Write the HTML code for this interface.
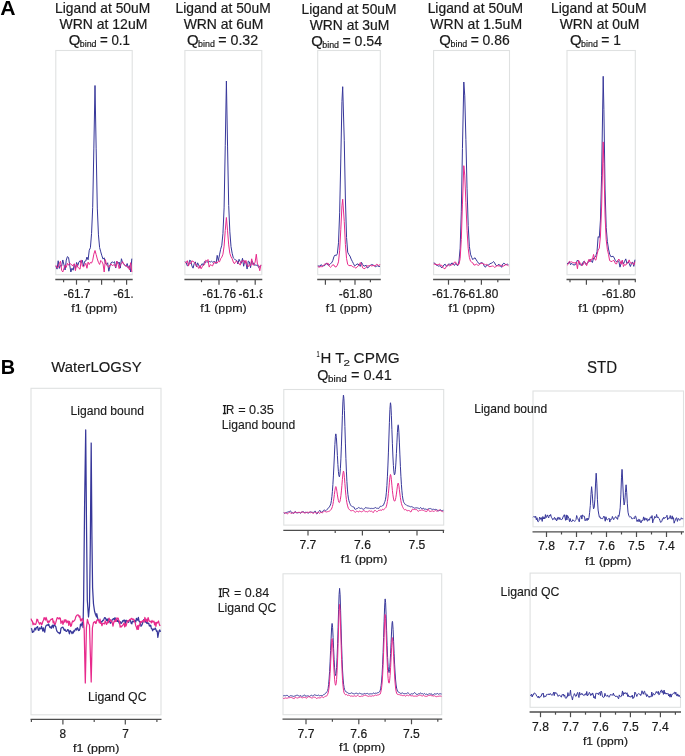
<!DOCTYPE html>
<html><head><meta charset="utf-8"><style>
html,body{margin:0;padding:0;background:#fff;width:685px;height:756px;overflow:hidden}
svg{display:block;font-family:"Liberation Sans", sans-serif;will-change:transform}
</style></head><body>
<svg width="685" height="756" viewBox="0 0 685 756">
<rect width="685" height="756" fill="#fff"/>
<text x="0.37" y="14.7" font-size="20.5" font-weight="bold" fill="#000" textLength="15.31" lengthAdjust="spacingAndGlyphs">A</text>
<text x="0.86" y="373.9" font-size="20.5" font-weight="bold" fill="#000" textLength="14.33" lengthAdjust="spacingAndGlyphs">B</text>
<rect x="55.8" y="50.5" width="76.4" height="224.2" fill="none" stroke="#dfe1e1" stroke-width="1.1"/>
<line x1="55.3" y1="279.5" x2="132.7" y2="279.5" stroke="#4d4d4d" stroke-width="1.3"/>
<line x1="63.6" y1="279.5" x2="63.6" y2="282.2" stroke="#4d4d4d" stroke-width="1.2"/>
<line x1="76.5" y1="279.5" x2="76.5" y2="284.7" stroke="#4d4d4d" stroke-width="1.2"/>
<line x1="88.9" y1="279.5" x2="88.9" y2="282.2" stroke="#4d4d4d" stroke-width="1.2"/>
<line x1="101.6" y1="279.5" x2="101.6" y2="284.7" stroke="#4d4d4d" stroke-width="1.2"/>
<line x1="114.2" y1="279.5" x2="114.2" y2="282.2" stroke="#4d4d4d" stroke-width="1.2"/>
<line x1="126.6" y1="279.5" x2="126.6" y2="284.7" stroke="#4d4d4d" stroke-width="1.2"/>
<clipPath id="ax1"><rect x="25.299999999999997" y="279.5" width="107.39999999999999" height="30"/></clipPath>
<g clip-path="url(#ax1)">
<text x="63.47" y="297.9" font-size="12.0" fill="#1a1a1a" stroke="#1a1a1a" stroke-width="0.2" textLength="26.94" lengthAdjust="spacingAndGlyphs">-61.7</text>
<text x="113.33" y="297.9" font-size="12.0" fill="#1a1a1a" stroke="#1a1a1a" stroke-width="0.2" textLength="26.94" lengthAdjust="spacingAndGlyphs">-61.8</text>
</g>
<text x="71.21" y="312.0" font-size="11.8" fill="#1a1a1a" stroke="#1a1a1a" stroke-width="0.2" textLength="46.14" lengthAdjust="spacingAndGlyphs">f1 (ppm)</text>
<path d="M55.90,266.18 L57.05,269.14 L58.20,260.74 L59.35,268.42 L60.50,265.30 L61.65,266.11 L62.80,259.98 L63.95,264.85 L65.10,270.01 L66.25,260.11 L67.40,256.62 L68.55,257.47 L69.70,265.12 L70.85,272.00 L72.00,268.23 L73.15,270.22 L74.30,264.13 L75.45,268.91 L76.60,262.46 L77.75,265.59 L78.90,262.08 L80.05,260.77 L81.20,262.95 L82.35,260.30 L83.50,266.13 L84.65,261.38 L85.80,261.01 L86.95,257.04 L88.10,259.79 L89.25,250.21 L90.40,247.73 L91.55,233.59 L92.70,207.40 L93.85,148.08 L95.00,85.50 L96.15,148.18 L97.30,208.10 L98.45,234.87 L99.60,247.50 L100.75,251.87 L101.90,255.81 L103.05,259.10 L104.20,257.81 L105.35,263.18 L106.50,264.47 L107.65,262.77 L108.80,271.24 L109.95,266.20 L111.10,262.66 L112.25,261.94 L113.40,262.60 L114.55,261.73 L115.70,268.03 L116.85,261.21 L118.00,263.64 L119.15,262.01 L120.30,268.10 L121.45,258.72 L122.60,262.82 L123.75,263.79 L124.90,265.52 L126.05,266.11 L127.20,263.53 L128.35,268.21 L129.50,265.64 L130.65,272.00 L131.80,258.64" fill="none" stroke="#37379a" stroke-width="1.0" stroke-linejoin="round"/>
<path d="M55.90,265.22 L57.05,267.85 L58.20,267.25 L59.35,263.57 L60.50,261.21 L61.65,270.45 L62.80,272.00 L63.95,268.26 L65.10,265.19 L66.25,267.38 L67.40,263.34 L68.55,265.26 L69.70,263.27 L70.85,264.15 L72.00,265.20 L73.15,265.71 L74.30,263.71 L75.45,270.65 L76.60,264.14 L77.75,267.03 L78.90,268.39 L80.05,269.16 L81.20,259.93 L82.35,266.14 L83.50,266.94 L84.65,265.55 L85.80,263.28 L86.95,268.28 L88.10,262.10 L89.25,264.51 L90.40,262.44 L91.55,263.06 L92.70,260.30 L93.85,254.12 L95.00,250.50 L96.15,254.57 L97.30,258.98 L98.45,262.41 L99.60,264.46 L100.75,260.46 L101.90,261.62 L103.05,264.00 L104.20,272.00 L105.35,259.56 L106.50,264.77 L107.65,266.27 L108.80,267.32 L109.95,264.77 L111.10,264.06 L112.25,265.61 L113.40,264.97 L114.55,264.80 L115.70,267.31 L116.85,261.39 L118.00,263.85 L119.15,268.63 L120.30,264.87 L121.45,263.98 L122.60,261.58 L123.75,263.78 L124.90,265.54 L126.05,265.65 L127.20,267.27 L128.35,266.52 L129.50,270.00 L130.65,262.69 L131.80,272.00" fill="none" stroke="#e82a8c" stroke-width="1.0" stroke-linejoin="round"/>
<text x="55.06" y="12.8" font-size="14.2" fill="#1a1a1a" stroke="#1a1a1a" stroke-width="0.2" textLength="95.17" lengthAdjust="spacingAndGlyphs">Ligand at 50uM</text>
<text x="59.43" y="28.5" font-size="14.2" fill="#1a1a1a" stroke="#1a1a1a" stroke-width="0.2" textLength="87.92" lengthAdjust="spacingAndGlyphs">WRN at 12uM</text>
<text x="68.69" y="44.6" font-size="14.0" fill="#1a1a1a" stroke="#1a1a1a" stroke-width="0.2" textLength="11.63" lengthAdjust="spacingAndGlyphs">Q</text>
<text x="79.82" y="46.5" font-size="9.0" fill="#1a1a1a" stroke="#1a1a1a" stroke-width="0.2" textLength="16.73" lengthAdjust="spacingAndGlyphs">bind</text>
<text x="99.97" y="44.6" font-size="14.0" fill="#1a1a1a" stroke="#1a1a1a" stroke-width="0.2" textLength="29.99" lengthAdjust="spacingAndGlyphs">= 0.1</text>
<rect x="184.9" y="50.5" width="76.9" height="224.2" fill="none" stroke="#dfe1e1" stroke-width="1.1"/>
<line x1="184.4" y1="279.5" x2="262.3" y2="279.5" stroke="#4d4d4d" stroke-width="1.3"/>
<line x1="201.5" y1="279.5" x2="201.5" y2="282.2" stroke="#4d4d4d" stroke-width="1.2"/>
<line x1="219.0" y1="279.5" x2="219.0" y2="284.7" stroke="#4d4d4d" stroke-width="1.2"/>
<line x1="237.0" y1="279.5" x2="237.0" y2="282.2" stroke="#4d4d4d" stroke-width="1.2"/>
<line x1="255.2" y1="279.5" x2="255.2" y2="284.7" stroke="#4d4d4d" stroke-width="1.2"/>
<clipPath id="ax2"><rect x="154.4" y="279.5" width="107.9" height="30"/></clipPath>
<g clip-path="url(#ax2)">
<text x="202.53" y="297.9" font-size="12.0" fill="#1a1a1a" stroke="#1a1a1a" stroke-width="0.2" textLength="33.52" lengthAdjust="spacingAndGlyphs">-61.76</text>
<text x="238.60" y="297.9" font-size="12.0" fill="#1a1a1a" stroke="#1a1a1a" stroke-width="0.2" textLength="33.52" lengthAdjust="spacingAndGlyphs">-61.80</text>
</g>
<text x="200.31" y="312.0" font-size="11.8" fill="#1a1a1a" stroke="#1a1a1a" stroke-width="0.2" textLength="46.44" lengthAdjust="spacingAndGlyphs">f1 (ppm)</text>
<path d="M185.00,261.48 L186.15,262.61 L187.30,265.83 L188.45,265.45 L189.60,260.25 L190.75,260.75 L191.90,265.87 L193.05,268.17 L194.20,263.69 L195.35,261.85 L196.50,266.74 L197.65,262.81 L198.80,265.62 L199.95,267.84 L201.10,265.25 L202.25,263.65 L203.40,265.38 L204.55,261.53 L205.70,262.69 L206.85,261.50 L208.00,262.36 L209.15,261.42 L210.30,262.02 L211.45,261.24 L212.60,262.15 L213.75,261.66 L214.90,261.69 L216.05,263.71 L217.20,255.36 L218.35,260.70 L219.50,254.87 L220.65,249.27 L221.80,245.21 L222.95,233.56 L224.10,207.89 L225.25,145.75 L226.40,81.00 L227.55,146.07 L228.70,205.56 L229.85,231.80 L231.00,246.58 L232.15,253.21 L233.30,257.82 L234.45,258.91 L235.60,260.11 L236.75,260.49 L237.90,264.03 L239.05,259.30 L240.20,261.54 L241.35,263.27 L242.50,258.30 L243.65,266.26 L244.80,260.77 L245.95,262.86 L247.10,269.05 L248.25,261.02 L249.40,261.92 L250.55,267.73 L251.70,260.55 L252.85,262.38 L254.00,265.05 L255.15,264.93 L256.30,265.35 L257.45,264.77 L258.60,267.50 L259.75,266.62 L260.90,265.48" fill="none" stroke="#37379a" stroke-width="1.0" stroke-linejoin="round"/>
<path d="M185.00,262.75 L186.15,262.54 L187.30,260.69 L188.45,266.09 L189.60,262.59 L190.75,263.78 L191.90,260.89 L193.05,261.36 L194.20,262.21 L195.35,263.81 L196.50,266.21 L197.65,266.44 L198.80,268.55 L199.95,265.35 L201.10,268.80 L202.25,266.79 L203.40,264.87 L204.55,264.64 L205.70,260.32 L206.85,261.06 L208.00,259.47 L209.15,267.11 L210.30,264.67 L211.45,265.33 L212.60,265.92 L213.75,262.71 L214.90,262.94 L216.05,261.85 L217.20,263.13 L218.35,261.17 L219.50,261.85 L220.65,258.71 L221.80,257.18 L222.95,254.20 L224.10,246.15 L225.25,230.46 L226.40,217.50 L227.55,230.80 L228.70,244.90 L229.85,253.37 L231.00,256.75 L232.15,258.73 L233.30,262.03 L234.45,263.75 L235.60,261.68 L236.75,261.08 L237.90,262.52 L239.05,263.31 L240.20,265.15 L241.35,260.95 L242.50,261.58 L243.65,259.95 L244.80,263.36 L245.95,260.40 L247.10,265.29 L248.25,266.79 L249.40,264.58 L250.55,265.92 L251.70,258.80 L252.85,264.96 L254.00,264.87 L255.15,262.05 L256.30,254.22 L257.45,264.27 L258.60,265.05 L259.75,270.71 L260.90,264.74" fill="none" stroke="#e82a8c" stroke-width="1.0" stroke-linejoin="round"/>
<text x="175.46" y="12.8" font-size="14.2" fill="#1a1a1a" stroke="#1a1a1a" stroke-width="0.2" textLength="95.27" lengthAdjust="spacingAndGlyphs">Ligand at 50uM</text>
<text x="183.63" y="28.5" font-size="14.2" fill="#1a1a1a" stroke="#1a1a1a" stroke-width="0.2" textLength="79.83" lengthAdjust="spacingAndGlyphs">WRN at 6uM</text>
<text x="186.99" y="44.6" font-size="14.0" fill="#1a1a1a" stroke="#1a1a1a" stroke-width="0.2" textLength="11.63" lengthAdjust="spacingAndGlyphs">Q</text>
<text x="198.12" y="46.5" font-size="9.0" fill="#1a1a1a" stroke="#1a1a1a" stroke-width="0.2" textLength="16.73" lengthAdjust="spacingAndGlyphs">bind</text>
<text x="218.22" y="44.6" font-size="14.0" fill="#1a1a1a" stroke="#1a1a1a" stroke-width="0.2" textLength="40.00" lengthAdjust="spacingAndGlyphs">= 0.32</text>
<rect x="317.7" y="50.5" width="62.6" height="224.2" fill="none" stroke="#dfe1e1" stroke-width="1.1"/>
<line x1="317.2" y1="279.5" x2="380.8" y2="279.5" stroke="#4d4d4d" stroke-width="1.3"/>
<line x1="325.4" y1="279.5" x2="325.4" y2="284.7" stroke="#4d4d4d" stroke-width="1.2"/>
<line x1="340.2" y1="279.5" x2="340.2" y2="282.2" stroke="#4d4d4d" stroke-width="1.2"/>
<line x1="355.0" y1="279.5" x2="355.0" y2="284.7" stroke="#4d4d4d" stroke-width="1.2"/>
<line x1="370.4" y1="279.5" x2="370.4" y2="282.2" stroke="#4d4d4d" stroke-width="1.2"/>
<clipPath id="ax3"><rect x="287.2" y="279.5" width="93.60000000000002" height="30"/></clipPath>
<g clip-path="url(#ax3)">
<text x="338.80" y="297.9" font-size="12.0" fill="#1a1a1a" stroke="#1a1a1a" stroke-width="0.2" textLength="33.52" lengthAdjust="spacingAndGlyphs">-61.80</text>
</g>
<text x="325.81" y="312.0" font-size="11.8" fill="#1a1a1a" stroke="#1a1a1a" stroke-width="0.2" textLength="46.24" lengthAdjust="spacingAndGlyphs">f1 (ppm)</text>
<path d="M317.80,265.98 L318.95,266.02 L320.10,266.18 L321.25,264.62 L322.40,266.11 L323.55,265.76 L324.70,265.57 L325.85,263.46 L327.00,263.26 L328.15,265.32 L329.30,264.81 L330.45,263.61 L331.60,262.88 L332.75,260.69 L333.90,256.85 L335.05,254.97 L336.20,255.63 L337.35,253.71 L338.50,242.73 L339.65,212.83 L340.80,158.98 L341.95,101.62 L342.70,86.70 L344.25,140.27 L345.40,199.00 L346.55,237.52 L347.70,252.23 L348.85,254.55 L350.00,256.11 L351.15,259.14 L352.30,261.39 L353.45,263.66 L354.60,265.75 L355.75,265.24 L356.90,264.14 L358.05,263.93 L359.20,265.46 L360.35,266.36 L361.50,262.36 L362.65,264.54 L363.80,266.03 L364.95,265.96 L366.10,265.18 L367.25,267.94 L368.40,267.52 L369.55,265.81 L370.70,265.20 L371.85,264.51 L373.00,265.04 L374.15,265.63 L375.30,266.70 L376.45,266.26 L377.60,265.80 L378.75,266.51 L379.90,266.51" fill="none" stroke="#37379a" stroke-width="1.0" stroke-linejoin="round"/>
<path d="M317.80,266.27 L318.95,267.28 L320.10,266.65 L321.25,266.66 L322.40,266.73 L323.55,265.08 L324.70,264.18 L325.85,264.35 L327.00,263.48 L328.15,263.25 L329.30,266.13 L330.45,267.39 L331.60,266.29 L332.75,264.73 L333.90,265.03 L335.05,266.91 L336.20,266.89 L337.35,265.17 L338.50,261.85 L339.65,250.26 L340.80,229.26 L341.95,205.79 L342.70,199.20 L344.25,221.54 L345.40,244.48 L346.55,258.56 L347.70,264.47 L348.85,265.42 L350.00,265.74 L351.15,265.43 L352.30,266.36 L353.45,267.05 L354.60,266.99 L355.75,268.08 L356.90,267.30 L358.05,265.95 L359.20,265.00 L360.35,262.54 L361.50,264.39 L362.65,267.87 L363.80,268.53 L364.95,268.60 L366.10,267.31 L367.25,265.86 L368.40,265.73 L369.55,265.56 L370.70,265.43 L371.85,266.06 L373.00,265.41 L374.15,265.81 L375.30,265.96 L376.45,264.31 L377.60,264.48 L378.75,265.86 L379.90,264.25" fill="none" stroke="#e82a8c" stroke-width="1.0" stroke-linejoin="round"/>
<text x="301.56" y="13.8" font-size="14.2" fill="#1a1a1a" stroke="#1a1a1a" stroke-width="0.2" textLength="94.96" lengthAdjust="spacingAndGlyphs">Ligand at 50uM</text>
<text x="309.73" y="29.5" font-size="14.2" fill="#1a1a1a" stroke="#1a1a1a" stroke-width="0.2" textLength="79.53" lengthAdjust="spacingAndGlyphs">WRN at 3uM</text>
<text x="311.19" y="45.6" font-size="14.0" fill="#1a1a1a" stroke="#1a1a1a" stroke-width="0.2" textLength="11.63" lengthAdjust="spacingAndGlyphs">Q</text>
<text x="322.32" y="47.5" font-size="9.0" fill="#1a1a1a" stroke="#1a1a1a" stroke-width="0.2" textLength="16.73" lengthAdjust="spacingAndGlyphs">bind</text>
<text x="342.43" y="45.6" font-size="14.0" fill="#1a1a1a" stroke="#1a1a1a" stroke-width="0.2" textLength="39.67" lengthAdjust="spacingAndGlyphs">= 0.54</text>
<rect x="433.6" y="50.5" width="75.9" height="224.2" fill="none" stroke="#dfe1e1" stroke-width="1.1"/>
<line x1="433.1" y1="279.5" x2="510.0" y2="279.5" stroke="#4d4d4d" stroke-width="1.3"/>
<line x1="448.5" y1="279.5" x2="448.5" y2="284.7" stroke="#4d4d4d" stroke-width="1.2"/>
<line x1="464.8" y1="279.5" x2="464.8" y2="282.2" stroke="#4d4d4d" stroke-width="1.2"/>
<line x1="481.4" y1="279.5" x2="481.4" y2="284.7" stroke="#4d4d4d" stroke-width="1.2"/>
<line x1="497.8" y1="279.5" x2="497.8" y2="282.2" stroke="#4d4d4d" stroke-width="1.2"/>
<clipPath id="ax4"><rect x="403.1" y="279.5" width="106.89999999999998" height="30"/></clipPath>
<g clip-path="url(#ax4)">
<text x="432.33" y="297.9" font-size="12.0" fill="#1a1a1a" stroke="#1a1a1a" stroke-width="0.2" textLength="33.52" lengthAdjust="spacingAndGlyphs">-61.76</text>
<text x="464.70" y="297.9" font-size="12.0" fill="#1a1a1a" stroke="#1a1a1a" stroke-width="0.2" textLength="33.52" lengthAdjust="spacingAndGlyphs">-61.80</text>
</g>
<text x="448.51" y="312.0" font-size="11.8" fill="#1a1a1a" stroke="#1a1a1a" stroke-width="0.2" textLength="46.44" lengthAdjust="spacingAndGlyphs">f1 (ppm)</text>
<path d="M433.70,262.93 L434.85,263.21 L436.00,264.97 L437.15,265.29 L438.30,266.15 L439.45,265.85 L440.60,266.24 L441.75,267.97 L442.90,266.62 L444.05,264.77 L445.20,264.22 L446.35,266.32 L447.50,266.06 L448.65,263.89 L449.80,264.26 L450.95,264.28 L452.10,262.82 L453.25,264.26 L454.40,265.44 L455.55,263.56 L456.70,265.03 L457.85,265.64 L459.00,261.06 L460.15,248.16 L461.30,211.84 L462.45,148.54 L463.80,82.00 L464.75,95.84 L465.90,139.68 L467.05,188.83 L468.20,225.36 L469.35,246.28 L470.50,254.20 L471.65,257.38 L472.80,259.63 L473.95,258.30 L475.10,257.90 L476.25,259.92 L477.40,261.57 L478.55,263.30 L479.70,263.59 L480.85,262.88 L482.00,262.71 L483.15,263.56 L484.30,266.28 L485.45,267.18 L486.60,265.30 L487.75,265.14 L488.90,264.80 L490.05,263.67 L491.20,263.29 L492.35,262.73 L493.50,261.51 L494.65,262.94 L495.80,265.22 L496.95,265.90 L498.10,264.67 L499.25,264.47 L500.40,266.28 L501.55,267.20 L502.70,264.15 L503.85,263.19 L505.00,264.07 L506.15,264.88 L507.30,264.14 L508.45,264.70" fill="none" stroke="#37379a" stroke-width="1.0" stroke-linejoin="round"/>
<path d="M433.70,264.12 L434.85,264.07 L436.00,264.39 L437.15,264.66 L438.30,264.99 L439.45,263.71 L440.60,265.71 L441.75,265.21 L442.90,267.36 L444.05,268.66 L445.20,268.57 L446.35,266.44 L447.50,264.88 L448.65,265.00 L449.80,265.93 L450.95,265.07 L452.10,264.71 L453.25,264.34 L454.40,262.10 L455.55,262.01 L456.70,264.33 L457.85,264.79 L459.00,264.19 L460.15,258.65 L461.30,239.47 L462.45,204.12 L463.80,165.70 L464.75,175.07 L465.90,202.65 L467.05,230.33 L468.20,248.33 L469.35,257.33 L470.50,261.22 L471.65,262.15 L472.80,262.90 L473.95,265.03 L475.10,265.03 L476.25,264.06 L477.40,264.88 L478.55,265.36 L479.70,264.38 L480.85,263.35 L482.00,263.05 L483.15,264.05 L484.30,264.17 L485.45,264.74 L486.60,264.42 L487.75,265.04 L488.90,266.61 L490.05,266.63 L491.20,266.37 L492.35,265.97 L493.50,266.27 L494.65,267.39 L495.80,266.63 L496.95,265.70 L498.10,265.76 L499.25,266.12 L500.40,265.34 L501.55,265.28 L502.70,266.76 L503.85,265.70 L505.00,265.25 L506.15,264.24 L507.30,265.17 L508.45,265.85" fill="none" stroke="#e82a8c" stroke-width="1.0" stroke-linejoin="round"/>
<text x="427.66" y="12.8" font-size="14.2" fill="#1a1a1a" stroke="#1a1a1a" stroke-width="0.2" textLength="95.48" lengthAdjust="spacingAndGlyphs">Ligand at 50uM</text>
<text x="430.33" y="28.5" font-size="14.2" fill="#1a1a1a" stroke="#1a1a1a" stroke-width="0.2" textLength="91.72" lengthAdjust="spacingAndGlyphs">WRN at 1.5uM</text>
<text x="439.39" y="44.6" font-size="14.0" fill="#1a1a1a" stroke="#1a1a1a" stroke-width="0.2" textLength="11.63" lengthAdjust="spacingAndGlyphs">Q</text>
<text x="450.52" y="46.5" font-size="9.0" fill="#1a1a1a" stroke="#1a1a1a" stroke-width="0.2" textLength="16.73" lengthAdjust="spacingAndGlyphs">bind</text>
<text x="470.64" y="44.6" font-size="14.0" fill="#1a1a1a" stroke="#1a1a1a" stroke-width="0.2" textLength="39.06" lengthAdjust="spacingAndGlyphs">= 0.86</text>
<rect x="567.0" y="50.5" width="68.3" height="224.2" fill="none" stroke="#dfe1e1" stroke-width="1.1"/>
<line x1="566.5" y1="279.5" x2="635.8" y2="279.5" stroke="#4d4d4d" stroke-width="1.3"/>
<line x1="570.0" y1="279.5" x2="570.0" y2="282.2" stroke="#4d4d4d" stroke-width="1.2"/>
<line x1="586.4" y1="279.5" x2="586.4" y2="284.7" stroke="#4d4d4d" stroke-width="1.2"/>
<line x1="602.7" y1="279.5" x2="602.7" y2="282.2" stroke="#4d4d4d" stroke-width="1.2"/>
<line x1="619.0" y1="279.5" x2="619.0" y2="284.7" stroke="#4d4d4d" stroke-width="1.2"/>
<line x1="635.3" y1="279.5" x2="635.3" y2="282.2" stroke="#4d4d4d" stroke-width="1.2"/>
<clipPath id="ax5"><rect x="536.5" y="279.5" width="99.29999999999995" height="30"/></clipPath>
<g clip-path="url(#ax5)">
<text x="602.10" y="297.9" font-size="12.0" fill="#1a1a1a" stroke="#1a1a1a" stroke-width="0.2" textLength="33.52" lengthAdjust="spacingAndGlyphs">-61.80</text>
</g>
<text x="578.22" y="312.0" font-size="11.8" fill="#1a1a1a" stroke="#1a1a1a" stroke-width="0.2" textLength="45.83" lengthAdjust="spacingAndGlyphs">f1 (ppm)</text>
<path d="M567.10,263.34 L568.25,263.68 L569.40,261.71 L570.55,264.74 L571.70,263.25 L572.85,264.64 L574.00,264.94 L575.15,264.84 L576.30,262.99 L577.45,260.01 L578.60,261.23 L579.75,264.70 L580.90,264.92 L582.05,265.31 L583.20,261.98 L584.35,261.09 L585.50,264.23 L586.65,263.95 L587.80,262.25 L588.95,261.90 L590.10,259.26 L591.25,260.69 L592.40,262.53 L593.55,257.99 L594.70,257.40 L595.85,255.83 L597.00,251.69 L598.15,236.67 L599.30,237.58 L600.45,220.08 L601.60,175.86 L603.20,76.30 L603.90,109.72 L605.05,188.99 L606.20,227.49 L607.35,241.37 L608.50,248.94 L609.65,254.09 L610.80,256.64 L611.95,256.60 L613.10,256.21 L614.25,258.04 L615.40,260.67 L616.55,261.89 L617.70,260.65 L618.85,261.38 L620.00,267.15 L621.15,263.16 L622.30,260.72 L623.45,263.99 L624.60,261.35 L625.75,258.88 L626.90,263.48 L628.05,261.89 L629.20,263.41 L630.35,266.54 L631.50,263.56 L632.65,261.91 L633.80,266.37 L634.95,259.71" fill="none" stroke="#37379a" stroke-width="1.0" stroke-linejoin="round"/>
<path d="M567.10,265.20 L568.25,264.16 L569.40,261.35 L570.55,262.04 L571.70,261.84 L572.85,262.60 L574.00,262.90 L575.15,262.90 L576.30,262.00 L577.45,268.75 L578.60,260.32 L579.75,263.02 L580.90,263.24 L582.05,265.73 L583.20,264.57 L584.35,261.39 L585.50,262.85 L586.65,265.66 L587.80,261.99 L588.95,259.35 L590.10,262.02 L591.25,259.00 L592.40,259.55 L593.55,254.42 L594.70,259.33 L595.85,260.16 L597.00,254.72 L598.15,249.95 L599.30,248.20 L600.45,236.02 L601.60,206.98 L603.20,141.90 L603.90,163.70 L605.05,215.90 L606.20,239.66 L607.35,249.35 L608.50,254.36 L609.65,260.63 L610.80,261.25 L611.95,261.61 L613.10,260.35 L614.25,260.94 L615.40,263.65 L616.55,263.90 L617.70,260.63 L618.85,259.04 L620.00,261.04 L621.15,264.21 L622.30,260.11 L623.45,266.58 L624.60,264.51 L625.75,265.18 L626.90,263.32 L628.05,262.58 L629.20,259.89 L630.35,263.15 L631.50,262.95 L632.65,263.12 L633.80,265.03 L634.95,261.70" fill="none" stroke="#e82a8c" stroke-width="1.0" stroke-linejoin="round"/>
<text x="551.06" y="12.8" font-size="14.2" fill="#1a1a1a" stroke="#1a1a1a" stroke-width="0.2" textLength="95.48" lengthAdjust="spacingAndGlyphs">Ligand at 50uM</text>
<text x="559.73" y="28.5" font-size="14.2" fill="#1a1a1a" stroke="#1a1a1a" stroke-width="0.2" textLength="79.53" lengthAdjust="spacingAndGlyphs">WRN at 0uM</text>
<text x="569.99" y="44.6" font-size="14.0" fill="#1a1a1a" stroke="#1a1a1a" stroke-width="0.2" textLength="11.63" lengthAdjust="spacingAndGlyphs">Q</text>
<text x="581.12" y="46.5" font-size="9.0" fill="#1a1a1a" stroke="#1a1a1a" stroke-width="0.2" textLength="16.73" lengthAdjust="spacingAndGlyphs">bind</text>
<text x="601.24" y="44.6" font-size="14.0" fill="#1a1a1a" stroke="#1a1a1a" stroke-width="0.2" textLength="19.62" lengthAdjust="spacingAndGlyphs">= 1</text>
<text x="51.33" y="371.8" font-size="15.4" fill="#1a1a1a" stroke="#1a1a1a" stroke-width="0.15" textLength="90.28" lengthAdjust="spacingAndGlyphs">WaterLOGSY</text>
<rect x="31.0" y="388.3" width="130.0" height="326.5" fill="none" stroke="#dfe1e1" stroke-width="1.1"/>
<line x1="30.5" y1="719.4" x2="161.5" y2="719.4" stroke="#4d4d4d" stroke-width="1.3"/>
<line x1="31.4" y1="719.4" x2="31.4" y2="722.1" stroke="#4d4d4d" stroke-width="1.2"/>
<line x1="62.9" y1="719.4" x2="62.9" y2="724.6" stroke="#4d4d4d" stroke-width="1.2"/>
<line x1="94.2" y1="719.4" x2="94.2" y2="722.1" stroke="#4d4d4d" stroke-width="1.2"/>
<line x1="125.3" y1="719.4" x2="125.3" y2="724.6" stroke="#4d4d4d" stroke-width="1.2"/>
<line x1="156.9" y1="719.4" x2="156.9" y2="722.1" stroke="#4d4d4d" stroke-width="1.2"/>
<clipPath id="ax6"><rect x="0.5" y="719.4" width="161.0" height="30"/></clipPath>
<g clip-path="url(#ax6)">
<text x="59.62" y="737.6" font-size="12.0" fill="#1a1a1a" stroke="#1a1a1a" stroke-width="0.2" textLength="6.57" lengthAdjust="spacingAndGlyphs">8</text>
<text x="122.32" y="737.6" font-size="12.0" fill="#1a1a1a" stroke="#1a1a1a" stroke-width="0.2" textLength="6.57" lengthAdjust="spacingAndGlyphs">7</text>
</g>
<text x="73.11" y="751.5" font-size="11.8" fill="#1a1a1a" stroke="#1a1a1a" stroke-width="0.2" textLength="46.24" lengthAdjust="spacingAndGlyphs">f1 (ppm)</text>
<text x="70.50" y="414.6" font-size="12.0" fill="#1a1a1a" stroke="#1a1a1a" stroke-width="0.15" textLength="73.48" lengthAdjust="spacingAndGlyphs">Ligand bound</text>
<text x="87.89" y="701.1" font-size="12.4" fill="#1a1a1a" stroke="#1a1a1a" stroke-width="0.15" textLength="58.65" lengthAdjust="spacingAndGlyphs">Ligand QC</text>
<path d="M31.10,628.32 L31.75,629.02 L32.40,632.37 L33.05,631.34 L33.70,631.85 L34.35,629.60 L35.00,628.08 L35.65,629.97 L36.30,627.76 L36.95,627.18 L37.60,626.56 L38.25,630.19 L38.90,630.42 L39.55,627.79 L40.20,628.67 L40.85,628.87 L41.50,626.41 L42.15,628.43 L42.80,631.11 L43.45,627.80 L44.10,630.82 L44.75,632.10 L45.40,627.37 L46.05,625.72 L46.70,625.09 L47.35,624.95 L48.00,625.33 L48.65,623.98 L49.30,625.99 L49.95,627.60 L50.60,626.94 L51.25,628.36 L51.90,625.85 L52.55,625.26 L53.20,627.86 L53.85,625.30 L54.50,624.29 L55.15,626.02 L55.80,626.75 L56.45,629.69 L57.10,631.43 L57.75,632.15 L58.40,632.97 L59.05,632.55 L59.70,633.76 L60.35,632.79 L61.00,628.21 L61.65,627.76 L62.30,627.33 L62.95,627.20 L63.60,628.84 L64.25,630.38 L64.90,629.21 L65.55,630.58 L66.20,631.48 L66.85,631.39 L67.50,629.62 L68.15,629.62 L68.80,631.50 L69.45,633.92 L70.10,630.49 L70.75,631.11 L71.40,632.02 L72.05,633.66 L72.70,631.80 L73.35,632.97 L74.00,630.50 L74.65,631.15 L75.30,629.20 L75.95,628.60 L76.60,630.12 L77.25,627.65 L77.90,628.42 L78.55,630.56 L79.20,630.49 L79.85,629.01 L80.50,624.13 L81.15,625.81 L81.80,623.75 L82.45,622.30 L83.00,627.50 L83.60,600.00 L84.60,505.00 L85.70,429.90 L86.50,525.00 L87.30,600.00 L88.50,617.00 L89.50,606.00 L90.30,545.00 L91.20,443.00 L91.90,535.00 L92.60,588.00 L93.50,604.00 L94.50,611.00 L95.50,614.50 L96.60,617.00 L96.75,613.73 L97.40,616.76 L98.05,619.80 L98.70,620.26 L99.35,620.27 L100.00,621.22 L100.65,622.27 L101.30,621.78 L101.95,622.09 L102.60,620.44 L103.25,620.56 L103.90,619.25 L104.55,617.63 L105.20,617.73 L105.85,618.97 L106.50,620.55 L107.15,618.99 L107.80,621.46 L108.45,618.91 L109.10,621.53 L109.75,621.46 L110.40,623.24 L111.05,622.52 L111.70,621.37 L112.35,619.23 L113.00,619.03 L113.65,618.61 L114.30,620.06 L114.95,617.63 L115.60,619.54 L116.25,621.15 L116.90,620.07 L117.55,621.41 L118.20,619.70 L118.85,622.26 L119.50,623.80 L120.15,621.62 L120.80,623.11 L121.45,623.28 L122.10,622.18 L122.75,620.64 L123.40,621.20 L124.05,619.95 L124.70,620.35 L125.35,624.09 L126.00,620.42 L126.65,620.34 L127.30,621.59 L127.95,621.77 L128.60,622.26 L129.25,620.27 L129.90,620.16 L130.55,620.78 L131.20,623.41 L131.85,623.84 L132.50,621.18 L133.15,621.28 L133.80,621.85 L134.45,620.57 L135.10,620.85 L135.75,622.06 L136.40,618.41 L137.05,619.65 L137.70,620.17 L138.35,617.34 L139.00,621.16 L139.65,621.53 L140.30,622.88 L140.95,626.25 L141.60,625.56 L142.25,624.24 L142.90,622.11 L143.55,620.05 L144.20,619.42 L144.85,619.88 L145.50,622.11 L146.15,621.92 L146.80,623.32 L147.45,622.54 L148.10,623.61 L148.75,623.26 L149.40,625.98 L150.05,626.09 L150.70,625.15 L151.35,628.50 L152.00,628.90 L152.65,630.77 L153.30,629.00 L153.95,629.48 L154.60,629.20 L155.25,627.94 L155.90,629.53 L156.55,631.31 L157.20,631.00 L157.85,637.39 L158.50,633.52 L159.15,630.61 L159.80,629.90 L160.45,631.88" fill="none" stroke="#37379a" stroke-width="1.25" stroke-linejoin="round"/>
<path d="M31.10,618.67 L31.75,620.84 L32.40,621.13 L33.05,624.75 L33.70,623.17 L34.35,624.09 L35.00,624.50 L35.65,624.41 L36.30,622.49 L36.95,619.22 L37.60,619.47 L38.25,621.93 L38.90,622.70 L39.55,624.12 L40.20,622.76 L40.85,622.70 L41.50,624.85 L42.15,623.82 L42.80,621.48 L43.45,620.30 L44.10,617.65 L44.75,618.42 L45.40,620.02 L46.05,617.41 L46.70,619.26 L47.35,621.50 L48.00,622.71 L48.65,621.10 L49.30,622.05 L49.95,620.72 L50.60,619.88 L51.25,619.04 L51.90,619.42 L52.55,618.55 L53.20,622.84 L53.85,621.07 L54.50,624.03 L55.15,624.31 L55.80,622.41 L56.45,620.07 L57.10,617.81 L57.75,617.68 L58.40,618.62 L59.05,618.91 L59.70,617.68 L60.35,618.34 L61.00,623.31 L61.65,621.44 L62.30,620.97 L62.95,624.39 L63.60,622.58 L64.25,619.98 L64.90,622.09 L65.55,619.78 L66.20,620.34 L66.85,622.75 L67.50,621.21 L68.15,620.99 L68.80,625.40 L69.45,621.46 L70.10,623.13 L70.75,626.27 L71.40,625.75 L72.05,622.48 L72.70,620.93 L73.35,621.48 L74.00,620.91 L74.65,620.26 L75.30,618.70 L75.95,616.43 L76.60,615.74 L77.25,615.03 L77.90,614.81 L78.55,615.21 L79.20,617.13 L79.85,616.03 L80.50,620.17 L81.15,621.11 L81.80,618.89 L82.45,618.36 L83.10,621.06 L83.40,621.00 L84.20,630.00 L84.80,660.00 L85.30,683.00 L85.80,660.00 L86.40,628.00 L87.40,619.50 L88.50,623.50 L89.50,625.00 L90.20,650.00 L91.20,682.00 L91.80,655.00 L92.40,628.00 L93.50,622.50 L95.00,621.50 L95.45,623.34 L96.10,623.40 L96.75,620.66 L97.40,619.44 L98.05,620.12 L98.70,620.58 L99.35,622.86 L100.00,619.22 L100.65,623.29 L101.30,623.13 L101.95,625.73 L102.60,623.53 L103.25,623.30 L103.90,623.65 L104.55,623.94 L105.20,620.98 L105.85,622.17 L106.50,624.46 L107.15,623.22 L107.80,621.69 L108.45,622.70 L109.10,618.14 L109.75,620.14 L110.40,619.66 L111.05,621.43 L111.70,621.12 L112.35,623.14 L113.00,626.18 L113.65,622.79 L114.30,620.99 L114.95,621.55 L115.60,619.59 L116.25,621.45 L116.90,617.94 L117.55,618.43 L118.20,618.20 L118.85,620.94 L119.50,621.16 L120.15,627.09 L120.80,626.21 L121.45,626.89 L122.10,625.93 L122.75,625.13 L123.40,624.58 L124.05,622.95 L124.70,626.79 L125.35,623.86 L126.00,626.00 L126.65,623.91 L127.30,620.74 L127.95,621.58 L128.60,621.09 L129.25,620.19 L129.90,619.47 L130.55,619.61 L131.20,618.63 L131.85,618.38 L132.50,619.42 L133.15,619.39 L133.80,619.14 L134.45,621.52 L135.10,622.31 L135.75,625.66 L136.40,627.02 L137.05,629.52 L137.70,625.65 L138.35,629.43 L139.00,625.17 L139.65,625.68 L140.30,621.93 L140.95,621.71 L141.60,622.33 L142.25,621.11 L142.90,620.64 L143.55,620.50 L144.20,622.16 L144.85,617.48 L145.50,619.50 L146.15,621.36 L146.80,619.17 L147.45,621.90 L148.10,617.56 L148.75,619.59 L149.40,621.41 L150.05,621.24 L150.70,621.36 L151.35,622.94 L152.00,620.47 L152.65,622.02 L153.30,621.66 L153.95,621.09 L154.60,624.81 L155.25,622.49 L155.90,626.36 L156.55,622.49 L157.20,623.12 L157.85,622.23 L158.50,620.94 L159.15,623.86 L159.80,625.54 L160.45,625.21" fill="none" stroke="#e82a8c" stroke-width="1.25" stroke-linejoin="round"/>
<text x="316.47" y="356.8" font-size="9.2" fill="#1a1a1a" stroke="#1a1a1a" stroke-width="0.12" textLength="3.21" lengthAdjust="spacingAndGlyphs">1</text>
<text x="320.57" y="363.3" font-size="14.1" fill="#1a1a1a" stroke="#1a1a1a" stroke-width="0.12" textLength="23.77" lengthAdjust="spacingAndGlyphs">H T</text>
<text x="343.62" y="365.8" font-size="9.2" fill="#1a1a1a" stroke="#1a1a1a" stroke-width="0.12" textLength="6.48" lengthAdjust="spacingAndGlyphs">2</text>
<text x="353.63" y="363.3" font-size="14.1" fill="#1a1a1a" stroke="#1a1a1a" stroke-width="0.12" textLength="46.02" lengthAdjust="spacingAndGlyphs">CPMG</text>
<text x="317.32" y="379.7" font-size="14.0" fill="#1a1a1a" stroke="#1a1a1a" stroke-width="0.12" textLength="11.17" lengthAdjust="spacingAndGlyphs">Q</text>
<text x="328.06" y="381.6" font-size="9.0" fill="#1a1a1a" stroke="#1a1a1a" stroke-width="0.2" textLength="18.56" lengthAdjust="spacingAndGlyphs">bind</text>
<text x="350.91" y="379.7" font-size="14.0" fill="#1a1a1a" stroke="#1a1a1a" stroke-width="0.12" textLength="40.89" lengthAdjust="spacingAndGlyphs">= 0.41</text>
<rect x="283.8" y="389.5" width="159.9" height="135.6" fill="none" stroke="#dfe1e1" stroke-width="1.1"/>
<line x1="283.3" y1="530.4" x2="444.2" y2="530.4" stroke="#4d4d4d" stroke-width="1.3"/>
<line x1="308.0" y1="530.4" x2="308.0" y2="535.6" stroke="#4d4d4d" stroke-width="1.2"/>
<line x1="335.2" y1="530.4" x2="335.2" y2="533.1" stroke="#4d4d4d" stroke-width="1.2"/>
<line x1="362.4" y1="530.4" x2="362.4" y2="535.6" stroke="#4d4d4d" stroke-width="1.2"/>
<line x1="389.3" y1="530.4" x2="389.3" y2="533.1" stroke="#4d4d4d" stroke-width="1.2"/>
<line x1="417.0" y1="530.4" x2="417.0" y2="535.6" stroke="#4d4d4d" stroke-width="1.2"/>
<line x1="443.4" y1="530.4" x2="443.4" y2="533.1" stroke="#4d4d4d" stroke-width="1.2"/>
<clipPath id="ax7"><rect x="253.3" y="530.4" width="190.89999999999998" height="30"/></clipPath>
<g clip-path="url(#ax7)">
<text x="299.49" y="548.9" font-size="12.1" fill="#1a1a1a" stroke="#1a1a1a" stroke-width="0.2" textLength="16.82" lengthAdjust="spacingAndGlyphs">7.7</text>
<text x="354.05" y="548.9" font-size="12.1" fill="#1a1a1a" stroke="#1a1a1a" stroke-width="0.2" textLength="16.82" lengthAdjust="spacingAndGlyphs">7.6</text>
<text x="408.53" y="548.9" font-size="12.1" fill="#1a1a1a" stroke="#1a1a1a" stroke-width="0.2" textLength="16.82" lengthAdjust="spacingAndGlyphs">7.5</text>
</g>
<text x="340.81" y="562.7" font-size="11.8" fill="#1a1a1a" stroke="#1a1a1a" stroke-width="0.2" textLength="46.65" lengthAdjust="spacingAndGlyphs">f1 (ppm)</text>
<path d="M224.60,405.00 V414.00 M222.90,405.55 H226.30 M222.90,413.45 H226.30" stroke="#1a1a1a" stroke-width="1.35" fill="none"/>
<text x="225.95" y="414.0" font-size="12.8" fill="#1a1a1a" stroke="#1a1a1a" stroke-width="0.12" textLength="8.29" lengthAdjust="spacingAndGlyphs">R</text>
<text x="238.20" y="414.0" font-size="12.8" fill="#1a1a1a" stroke="#1a1a1a" stroke-width="0.12" textLength="35.62" lengthAdjust="spacingAndGlyphs">= 0.35</text>
<text x="221.80" y="429.3" font-size="12.4" fill="#1a1a1a" stroke="#1a1a1a" stroke-width="0.12" textLength="73.58" lengthAdjust="spacingAndGlyphs">Ligand bound</text>
<path d="M283.90,512.70 L284.40,513.28 L284.90,513.33 L285.40,512.80 L285.90,512.55 L286.40,512.45 L286.90,512.42 L287.40,512.23 L287.90,511.90 L288.40,511.80 L288.90,511.61 L289.40,511.47 L289.90,511.29 L290.40,511.00 L290.90,511.32 L291.40,512.22 L291.90,512.85 L292.40,512.87 L292.90,512.74 L293.40,513.10 L293.90,513.45 L294.40,512.88 L294.90,511.76 L295.40,511.51 L295.90,512.34 L296.40,512.95 L296.90,512.96 L297.40,512.91 L297.90,512.79 L298.40,512.65 L298.90,512.59 L299.40,512.52 L299.90,512.75 L300.40,513.23 L300.90,513.00 L301.40,512.28 L301.90,511.84 L302.40,511.78 L302.90,511.81 L303.40,511.68 L303.90,512.00 L304.40,512.58 L304.90,512.74 L305.40,512.41 L305.90,512.11 L306.40,512.32 L306.90,512.62 L307.40,512.79 L307.90,512.87 L308.40,513.04 L308.90,512.93 L309.40,512.54 L309.90,512.07 L310.40,511.84 L310.90,512.04 L311.40,512.27 L311.90,512.15 L312.40,512.27 L312.90,512.59 L313.40,512.46 L313.90,512.06 L314.40,511.60 L314.90,511.05 L315.40,511.20 L315.90,512.42 L316.40,513.67 L316.90,514.04 L317.40,513.61 L317.90,512.66 L318.40,511.96 L318.90,511.55 L319.40,510.67 L319.90,510.31 L320.40,511.21 L320.90,512.07 L321.40,512.35 L321.90,512.36 L322.40,511.93 L322.90,511.18 L323.40,510.50 L323.90,510.15 L324.40,510.02 L324.90,510.39 L325.40,510.80 L325.90,510.48 L326.40,509.92 L326.90,509.72 L327.40,509.41 L327.90,508.40 L328.40,507.85 L328.90,507.63 L329.40,506.86 L329.90,505.96 L330.40,505.03 L330.90,503.38 L331.40,500.58 L331.90,496.62 L332.40,491.36 L332.90,484.43 L333.40,475.92 L333.90,465.99 L334.40,455.06 L334.90,444.38 L335.40,436.40 L335.80,433.88 L335.90,433.92 L336.40,437.82 L336.90,446.06 L337.40,455.69 L337.90,464.53 L338.40,471.39 L338.90,475.68 L339.40,476.84 L339.90,474.36 L340.40,468.40 L340.90,458.86 L341.40,446.09 L341.90,431.05 L342.40,415.33 L342.90,401.91 L343.40,395.30 L343.50,395.14 L343.90,398.61 L344.40,410.42 L344.90,426.44 L345.40,443.10 L345.90,458.29 L346.40,471.12 L346.90,481.41 L347.40,489.03 L347.90,494.39 L348.40,498.11 L348.90,500.53 L349.40,502.21 L349.90,503.48 L350.40,504.68 L350.90,505.55 L351.40,506.07 L351.90,506.43 L352.40,506.59 L352.90,506.80 L353.40,506.86 L353.90,507.06 L354.40,507.98 L354.90,509.09 L355.40,509.44 L355.90,508.93 L356.40,508.72 L356.90,508.70 L357.40,508.44 L357.90,508.20 L358.40,507.63 L358.90,507.47 L359.40,507.88 L359.90,508.34 L360.40,508.49 L360.90,508.24 L361.40,508.20 L361.90,508.42 L362.40,508.77 L362.90,509.15 L363.40,509.29 L363.90,509.14 L364.40,508.86 L364.90,508.29 L365.40,507.58 L365.90,507.50 L366.40,507.85 L366.90,507.85 L367.40,507.99 L367.90,508.30 L368.40,508.22 L368.90,507.96 L369.40,508.07 L369.90,508.58 L370.40,508.67 L370.90,508.17 L371.40,508.29 L371.90,508.74 L372.40,508.60 L372.90,508.28 L373.40,508.36 L373.90,508.59 L374.40,508.30 L374.90,507.59 L375.40,507.50 L375.90,507.96 L376.40,508.22 L376.90,508.22 L377.40,508.25 L377.90,508.35 L378.40,508.51 L378.90,508.35 L379.40,507.43 L379.90,506.58 L380.40,506.34 L380.90,506.53 L381.40,506.41 L381.90,505.90 L382.40,505.68 L382.90,505.77 L383.40,505.24 L383.90,504.08 L384.40,502.74 L384.90,501.49 L385.40,499.78 L385.90,496.86 L386.40,492.22 L386.90,485.57 L387.40,476.81 L387.90,465.98 L388.40,452.92 L388.90,438.02 L389.40,422.70 L389.90,409.70 L390.40,403.02 L390.50,402.76 L390.90,405.47 L391.40,415.71 L391.90,429.66 L392.40,443.78 L392.90,456.04 L393.40,465.46 L393.90,471.89 L394.40,474.90 L394.90,473.98 L395.40,469.83 L395.90,462.93 L396.40,453.61 L396.90,442.91 L397.40,432.65 L397.90,425.88 L398.20,424.81 L398.40,425.56 L398.90,432.10 L399.40,442.91 L399.90,454.93 L400.40,466.34 L400.90,476.21 L401.40,484.33 L401.90,490.83 L402.40,495.67 L402.90,499.00 L403.40,501.33 L403.90,502.59 L404.40,503.24 L404.90,504.14 L405.40,504.65 L405.90,504.53 L406.40,504.88 L406.90,505.45 L407.40,505.68 L407.90,505.89 L408.40,506.00 L408.90,506.06 L409.40,506.31 L409.90,506.57 L410.40,506.78 L410.90,506.82 L411.40,506.67 L411.90,506.66 L412.40,506.96 L412.90,507.28 L413.40,507.50 L413.90,507.83 L414.40,508.07 L414.90,508.30 L415.40,508.02 L415.90,507.64 L416.40,507.74 L416.90,508.04 L417.40,508.01 L417.90,507.89 L418.40,508.18 L418.90,508.55 L419.40,508.69 L419.90,508.32 L420.40,507.59 L420.90,507.65 L421.40,508.24 L421.90,508.95 L422.40,509.06 L422.90,508.32 L423.40,508.05 L423.90,508.61 L424.40,509.26 L424.90,509.31 L425.40,509.06 L425.90,509.14 L426.40,509.33 L426.90,509.45 L427.40,509.41 L427.90,509.27 L428.40,508.91 L428.90,508.51 L429.40,508.55 L429.90,508.79 L430.40,508.64 L430.90,508.56 L431.40,508.97 L431.90,509.44 L432.40,509.45 L432.90,509.17 L433.40,509.22 L433.90,509.39 L434.40,509.48 L434.90,509.65 L435.40,509.47 L435.90,509.26 L436.40,509.51 L436.90,509.88 L437.40,510.21 L437.90,510.41 L438.40,510.91 L438.90,511.16 L439.40,510.68 L439.90,510.09 L440.40,509.80 L440.90,510.03 L441.40,510.69 L441.90,511.13 L442.40,510.75 L442.90,510.21 L443.40,510.19" fill="none" stroke="#37379a" stroke-width="1.0" stroke-linejoin="round"/>
<path d="M283.90,512.63 L284.40,512.83 L284.90,513.10 L285.40,513.02 L285.90,512.86 L286.40,513.27 L286.90,513.69 L287.40,513.83 L287.90,513.48 L288.40,512.97 L288.90,512.81 L289.40,512.31 L289.90,512.29 L290.40,512.96 L290.90,513.46 L291.40,513.46 L291.90,513.23 L292.40,512.85 L292.90,512.58 L293.40,513.02 L293.90,513.11 L294.40,512.22 L294.90,512.03 L295.40,512.24 L295.90,512.25 L296.40,512.44 L296.90,512.61 L297.40,512.55 L297.90,512.37 L298.40,512.32 L298.90,512.46 L299.40,512.36 L299.90,512.62 L300.40,513.14 L300.90,512.72 L301.40,511.97 L301.90,511.74 L302.40,512.02 L302.90,512.09 L303.40,512.36 L303.90,512.90 L304.40,512.94 L304.90,512.74 L305.40,512.89 L305.90,512.91 L306.40,512.55 L306.90,512.30 L307.40,512.25 L307.90,512.18 L308.40,512.40 L308.90,512.32 L309.40,512.01 L309.90,512.43 L310.40,512.88 L310.90,512.37 L311.40,512.24 L311.90,512.59 L312.40,512.93 L312.90,513.21 L313.40,513.37 L313.90,513.16 L314.40,512.51 L314.90,512.03 L315.40,512.31 L315.90,512.89 L316.40,513.24 L316.90,513.15 L317.40,512.50 L317.90,511.95 L318.40,512.13 L318.90,512.76 L319.40,513.29 L319.90,513.34 L320.40,512.81 L320.90,512.14 L321.40,512.18 L321.90,512.63 L322.40,512.79 L322.90,512.51 L323.40,511.99 L323.90,511.47 L324.40,510.95 L324.90,511.18 L325.40,511.68 L325.90,511.91 L326.40,511.99 L326.90,511.82 L327.40,511.69 L327.90,511.57 L328.40,511.43 L328.90,511.40 L329.40,511.12 L329.90,510.83 L330.40,510.39 L330.90,509.75 L331.40,509.03 L331.90,507.99 L332.40,506.55 L332.90,504.48 L333.40,501.56 L333.90,498.21 L334.40,494.46 L334.90,490.57 L335.40,487.54 L335.80,486.59 L335.90,486.62 L336.40,488.18 L336.90,491.35 L337.40,494.89 L337.90,497.99 L338.40,500.48 L338.90,502.20 L339.40,502.55 L339.90,501.53 L340.40,499.31 L340.90,495.74 L341.40,490.92 L341.90,485.33 L342.40,479.34 L342.90,473.95 L343.40,471.16 L343.50,471.08 L343.90,472.49 L344.40,477.25 L344.90,483.52 L345.40,489.84 L345.90,495.28 L346.40,499.59 L346.90,502.80 L347.40,505.10 L347.90,506.91 L348.40,508.43 L348.90,509.23 L349.40,509.42 L349.90,509.93 L350.40,510.58 L350.90,510.81 L351.40,510.77 L351.90,510.73 L352.40,510.49 L352.90,510.46 L353.40,510.58 L353.90,510.94 L354.40,511.56 L354.90,512.16 L355.40,512.35 L355.90,511.66 L356.40,511.22 L356.90,511.46 L357.40,511.46 L357.90,511.50 L358.40,511.92 L358.90,511.72 L359.40,510.97 L359.90,511.02 L360.40,511.44 L360.90,511.61 L361.40,511.82 L361.90,511.70 L362.40,511.46 L362.90,511.12 L363.40,510.74 L363.90,510.68 L364.40,510.78 L364.90,511.18 L365.40,511.73 L365.90,511.76 L366.40,511.54 L366.90,511.74 L367.40,511.93 L367.90,511.56 L368.40,511.27 L368.90,511.21 L369.40,510.89 L369.90,510.97 L370.40,511.36 L370.90,511.17 L371.40,511.14 L371.90,511.35 L372.40,511.73 L372.90,512.42 L373.40,512.45 L373.90,511.50 L374.40,510.63 L374.90,510.42 L375.40,510.48 L375.90,511.05 L376.40,511.54 L376.90,511.66 L377.40,511.58 L377.90,511.04 L378.40,510.50 L378.90,510.53 L379.40,510.47 L379.90,509.99 L380.40,509.98 L380.90,510.37 L381.40,510.49 L381.90,509.64 L382.40,509.26 L382.90,509.90 L383.40,510.02 L383.90,509.42 L384.40,508.80 L384.90,508.33 L385.40,508.09 L385.90,507.55 L386.40,506.19 L386.90,504.08 L387.40,501.43 L387.90,498.08 L388.40,493.61 L388.90,488.09 L389.40,482.27 L389.90,477.22 L390.40,474.56 L390.50,474.46 L390.90,475.60 L391.40,479.76 L391.90,485.24 L392.40,490.47 L392.90,494.78 L393.40,498.07 L393.90,500.19 L394.40,501.08 L394.90,501.07 L395.40,499.76 L395.90,497.31 L396.40,494.11 L396.90,490.15 L397.40,486.18 L397.90,483.48 L398.20,483.02 L398.40,483.29 L398.90,485.77 L399.40,489.77 L399.90,493.98 L400.40,497.64 L400.90,500.75 L401.40,503.31 L401.90,505.06 L402.40,506.35 L402.90,507.47 L403.40,508.40 L403.90,509.28 L404.40,509.73 L404.90,509.62 L405.40,509.59 L405.90,509.48 L406.40,509.89 L406.90,510.72 L407.40,510.84 L407.90,510.38 L408.40,510.48 L408.90,510.51 L409.40,510.57 L409.90,511.14 L410.40,511.90 L410.90,511.97 L411.40,511.06 L411.90,510.02 L412.40,509.25 L412.90,508.83 L413.40,509.27 L413.90,509.83 L414.40,509.51 L414.90,509.31 L415.40,509.55 L415.90,509.64 L416.40,509.58 L416.90,509.72 L417.40,510.40 L417.90,511.21 L418.40,511.28 L418.90,510.79 L419.40,510.46 L419.90,510.56 L420.40,510.49 L420.90,510.08 L421.40,509.98 L421.90,510.21 L422.40,510.17 L422.90,510.16 L423.40,510.39 L423.90,510.48 L424.40,510.74 L424.90,511.30 L425.40,511.31 L425.90,511.18 L426.40,511.50 L426.90,511.49 L427.40,510.47 L427.90,509.40 L428.40,509.56 L428.90,510.45 L429.40,511.25 L429.90,511.69 L430.40,511.51 L430.90,511.21 L431.40,511.14 L431.90,511.05 L432.40,510.93 L432.90,510.91 L433.40,511.32 L433.90,511.47 L434.40,511.28 L434.90,510.73 L435.40,510.30 L435.90,510.55 L436.40,510.98 L436.90,511.20 L437.40,511.25 L437.90,511.04 L438.40,510.43 L438.90,509.95 L439.40,509.97 L439.90,510.15 L440.40,510.51 L440.90,510.83 L441.40,510.95 L441.90,511.10 L442.40,511.50 L442.90,511.80 L443.40,511.85" fill="none" stroke="#e82a8c" stroke-width="1.0" stroke-linejoin="round"/>
<rect x="283.0" y="573.8" width="158.7" height="140.9" fill="none" stroke="#dfe1e1" stroke-width="1.1"/>
<line x1="282.5" y1="719.1" x2="442.2" y2="719.1" stroke="#4d4d4d" stroke-width="1.3"/>
<line x1="306.0" y1="719.1" x2="306.0" y2="724.3" stroke="#4d4d4d" stroke-width="1.2"/>
<line x1="332.4" y1="719.1" x2="332.4" y2="721.8" stroke="#4d4d4d" stroke-width="1.2"/>
<line x1="358.8" y1="719.1" x2="358.8" y2="724.3" stroke="#4d4d4d" stroke-width="1.2"/>
<line x1="385.1" y1="719.1" x2="385.1" y2="721.8" stroke="#4d4d4d" stroke-width="1.2"/>
<line x1="411.5" y1="719.1" x2="411.5" y2="724.3" stroke="#4d4d4d" stroke-width="1.2"/>
<line x1="437.8" y1="719.1" x2="437.8" y2="721.8" stroke="#4d4d4d" stroke-width="1.2"/>
<clipPath id="ax8"><rect x="252.5" y="719.1" width="189.7" height="30"/></clipPath>
<g clip-path="url(#ax8)">
<text x="297.59" y="738.0" font-size="12.1" fill="#1a1a1a" stroke="#1a1a1a" stroke-width="0.2" textLength="16.82" lengthAdjust="spacingAndGlyphs">7.7</text>
<text x="350.35" y="738.0" font-size="12.1" fill="#1a1a1a" stroke="#1a1a1a" stroke-width="0.2" textLength="16.82" lengthAdjust="spacingAndGlyphs">7.6</text>
<text x="403.03" y="738.0" font-size="12.1" fill="#1a1a1a" stroke="#1a1a1a" stroke-width="0.2" textLength="16.82" lengthAdjust="spacingAndGlyphs">7.5</text>
</g>
<text x="339.11" y="751.0" font-size="11.8" fill="#1a1a1a" stroke="#1a1a1a" stroke-width="0.2" textLength="45.93" lengthAdjust="spacingAndGlyphs">f1 (ppm)</text>
<path d="M220.40,588.30 V597.10 M218.70,588.85 H222.10 M218.70,596.55 H222.10" stroke="#1a1a1a" stroke-width="1.35" fill="none"/>
<text x="221.75" y="597.1" font-size="12.8" fill="#1a1a1a" stroke="#1a1a1a" stroke-width="0.12" textLength="8.29" lengthAdjust="spacingAndGlyphs">R</text>
<text x="234.00" y="597.1" font-size="12.8" fill="#1a1a1a" stroke="#1a1a1a" stroke-width="0.12" textLength="35.25" lengthAdjust="spacingAndGlyphs">= 0.84</text>
<text x="217.69" y="611.8" font-size="12.4" fill="#1a1a1a" stroke="#1a1a1a" stroke-width="0.12" textLength="58.65" lengthAdjust="spacingAndGlyphs">Ligand QC</text>
<path d="M283.10,695.92 L283.60,695.73 L284.10,695.50 L284.60,695.67 L285.10,695.95 L285.60,695.68 L286.10,695.36 L286.60,695.47 L287.10,695.53 L287.60,695.50 L288.10,695.85 L288.60,696.54 L289.10,696.69 L289.60,696.18 L290.10,695.82 L290.60,695.68 L291.10,695.67 L291.60,695.88 L292.10,696.05 L292.60,696.07 L293.10,696.22 L293.60,696.41 L294.10,696.36 L294.60,696.02 L295.10,695.76 L295.60,695.70 L296.10,695.57 L296.60,695.27 L297.10,695.14 L297.60,695.31 L298.10,695.61 L298.60,695.75 L299.10,695.93 L299.60,696.13 L300.10,695.88 L300.60,695.62 L301.10,695.84 L301.60,696.34 L302.10,696.40 L302.60,696.07 L303.10,695.96 L303.60,695.73 L304.10,695.14 L304.60,694.86 L305.10,695.42 L305.60,696.25 L306.10,696.31 L306.60,695.98 L307.10,695.79 L307.60,695.92 L308.10,696.10 L308.60,695.97 L309.10,696.18 L309.60,696.41 L310.10,696.04 L310.60,695.63 L311.10,695.38 L311.60,695.31 L312.10,695.64 L312.60,695.94 L313.10,695.77 L313.60,695.36 L314.10,694.89 L314.60,694.83 L315.10,695.16 L315.60,695.14 L316.10,695.17 L316.60,695.51 L317.10,695.67 L317.60,695.44 L318.10,695.22 L318.60,695.13 L319.10,695.51 L319.60,695.81 L320.10,695.69 L320.60,695.53 L321.10,695.50 L321.60,695.48 L322.10,695.53 L322.60,695.57 L323.10,695.12 L323.60,694.67 L324.10,694.45 L324.60,694.21 L325.10,693.85 L325.60,693.36 L326.10,692.68 L326.60,692.06 L327.10,691.60 L327.60,690.75 L328.10,688.56 L328.60,684.59 L329.10,678.96 L329.60,671.40 L330.10,661.79 L330.60,650.45 L331.10,638.37 L331.60,627.95 L332.10,623.44 L332.10,623.44 L332.60,627.49 L333.10,637.34 L333.60,648.78 L334.10,659.36 L334.60,667.87 L335.10,673.45 L335.60,675.53 L336.10,673.54 L336.60,667.37 L337.10,657.41 L337.60,643.81 L338.10,627.33 L338.60,609.77 L339.10,594.68 L339.60,588.35 L339.60,588.35 L340.10,594.87 L340.60,610.18 L341.10,628.07 L341.60,645.12 L342.10,659.66 L342.60,670.97 L343.10,678.98 L343.60,684.28 L344.10,687.64 L344.60,689.54 L345.10,690.58 L345.60,691.44 L346.10,691.95 L346.60,692.10 L347.10,692.25 L347.60,692.68 L348.10,693.12 L348.60,693.34 L349.10,693.40 L349.60,693.51 L350.10,693.52 L350.60,693.36 L351.10,693.10 L351.60,692.82 L352.10,692.97 L352.60,693.45 L353.10,693.69 L353.60,693.71 L354.10,693.85 L354.60,693.88 L355.10,693.60 L355.60,693.33 L356.10,693.11 L356.60,693.30 L357.10,693.66 L357.60,693.69 L358.10,693.74 L358.60,693.85 L359.10,693.43 L359.60,693.17 L360.10,693.37 L360.60,693.61 L361.10,693.86 L361.60,693.94 L362.10,694.00 L362.60,694.17 L363.10,694.21 L363.60,693.93 L364.10,693.59 L364.60,693.48 L365.10,693.68 L365.60,693.89 L366.10,693.76 L366.60,693.50 L367.10,693.45 L367.60,693.44 L368.10,693.77 L368.60,694.15 L369.10,694.05 L369.60,693.91 L370.10,693.79 L370.60,693.79 L371.10,693.76 L371.60,693.90 L372.10,694.09 L372.60,693.78 L373.10,693.24 L373.60,692.98 L374.10,693.19 L374.60,693.57 L375.10,693.48 L375.60,693.13 L376.10,693.16 L376.60,693.27 L377.10,692.97 L377.60,692.78 L378.10,692.77 L378.60,692.44 L379.10,692.04 L379.60,691.68 L380.10,690.78 L380.60,688.83 L381.10,685.64 L381.60,681.00 L382.10,674.30 L382.60,664.82 L383.10,652.41 L383.60,637.59 L384.10,621.58 L384.60,607.07 L385.10,599.17 L385.20,598.90 L385.60,602.53 L386.10,614.81 L386.60,630.26 L387.10,645.23 L387.60,657.64 L388.10,666.52 L388.60,671.70 L389.10,672.67 L389.60,669.37 L390.10,662.72 L390.60,653.47 L391.10,642.35 L391.60,631.06 L392.10,622.90 L392.40,621.40 L392.60,622.21 L393.10,629.66 L393.60,641.21 L394.10,653.31 L394.60,664.12 L395.10,673.01 L395.60,680.00 L396.10,684.99 L396.60,688.12 L397.10,689.96 L397.60,691.21 L398.10,691.92 L398.60,692.22 L399.10,692.44 L399.60,692.69 L400.10,693.11 L400.60,693.40 L401.10,693.42 L401.60,693.24 L402.10,692.98 L402.60,692.95 L403.10,693.31 L403.60,693.61 L404.10,693.66 L404.60,693.71 L405.10,693.73 L405.60,693.60 L406.10,693.66 L406.60,693.56 L407.10,693.14 L407.60,692.82 L408.10,692.93 L408.60,693.29 L409.10,693.77 L409.60,694.36 L410.10,694.54 L410.60,694.26 L411.10,693.99 L411.60,693.68 L412.10,693.72 L412.60,694.02 L413.10,693.98 L413.60,693.46 L414.10,692.86 L414.60,692.60 L415.10,692.83 L415.60,693.46 L416.10,694.12 L416.60,694.45 L417.10,694.50 L417.60,694.34 L418.10,693.88 L418.60,693.80 L419.10,694.02 L419.60,693.77 L420.10,693.18 L420.60,692.99 L421.10,693.42 L421.60,693.71 L422.10,693.66 L422.60,693.70 L423.10,694.12 L423.60,694.23 L424.10,693.78 L424.60,693.47 L425.10,693.88 L425.60,694.43 L426.10,694.34 L426.60,694.07 L427.10,694.33 L427.60,694.66 L428.10,694.44 L428.60,693.90 L429.10,693.65 L429.60,693.86 L430.10,694.11 L430.60,693.99 L431.10,693.52 L431.60,693.85 L432.10,694.82 L432.60,695.11 L433.10,694.97 L433.60,694.55 L434.10,693.87 L434.60,693.76 L435.10,694.05 L435.60,694.06 L436.10,694.08 L436.60,693.89 L437.10,693.50 L437.60,693.50 L438.10,694.02 L438.60,694.30 L439.10,694.12 L439.60,693.76 L440.10,693.64 L440.60,693.83 L441.10,693.96 L441.60,694.04" fill="none" stroke="#37379a" stroke-width="1.0" stroke-linejoin="round"/>
<path d="M283.10,697.85 L283.60,698.54 L284.10,698.69 L284.60,698.21 L285.10,697.83 L285.60,698.00 L286.10,698.28 L286.60,698.17 L287.10,698.04 L287.60,698.10 L288.10,697.94 L288.60,697.69 L289.10,697.67 L289.60,697.65 L290.10,697.58 L290.60,697.45 L291.10,697.38 L291.60,697.59 L292.10,697.97 L292.60,697.97 L293.10,697.94 L293.60,698.53 L294.10,698.77 L294.60,698.01 L295.10,697.29 L295.60,697.11 L296.10,697.50 L296.60,698.02 L297.10,698.16 L297.60,697.96 L298.10,697.82 L298.60,697.63 L299.10,697.50 L299.60,697.29 L300.10,696.95 L300.60,696.88 L301.10,697.18 L301.60,697.69 L302.10,697.89 L302.60,697.81 L303.10,697.59 L303.60,697.41 L304.10,697.45 L304.60,697.37 L305.10,697.27 L305.60,697.67 L306.10,698.23 L306.60,698.19 L307.10,697.62 L307.60,697.04 L308.10,696.69 L308.60,696.68 L309.10,696.72 L309.60,696.94 L310.10,697.21 L310.60,697.39 L311.10,697.74 L311.60,697.93 L312.10,698.01 L312.60,697.81 L313.10,697.34 L313.60,697.07 L314.10,697.09 L314.60,697.24 L315.10,697.32 L315.60,697.59 L316.10,698.16 L316.60,698.49 L317.10,698.36 L317.60,697.91 L318.10,697.69 L318.60,697.81 L319.10,697.83 L319.60,697.93 L320.10,698.11 L320.60,697.78 L321.10,697.08 L321.60,696.71 L322.10,696.84 L322.60,697.10 L323.10,697.42 L323.60,697.56 L324.10,697.25 L324.60,696.70 L325.10,696.29 L325.60,696.35 L326.10,696.46 L326.60,696.02 L327.10,695.32 L327.60,694.47 L328.10,692.97 L328.60,690.61 L329.10,686.96 L329.60,681.37 L330.10,673.56 L330.60,663.89 L331.10,653.04 L331.60,643.08 L332.10,638.54 L332.10,638.54 L332.60,642.76 L333.10,652.36 L333.60,662.84 L334.10,672.08 L334.60,679.17 L335.10,683.64 L335.60,685.26 L336.10,683.93 L336.60,679.33 L337.10,670.86 L337.60,658.75 L338.10,643.61 L338.60,626.73 L339.10,611.28 L339.60,604.35 L339.60,604.35 L340.10,611.37 L340.60,626.96 L341.10,643.98 L341.60,659.34 L342.10,671.82 L342.60,680.76 L343.10,686.74 L343.60,690.75 L344.10,692.89 L344.60,693.80 L345.10,694.46 L345.60,694.71 L346.10,694.45 L346.60,694.42 L347.10,695.06 L347.60,695.52 L348.10,695.32 L348.60,695.14 L349.10,695.25 L349.60,695.55 L350.10,695.98 L350.60,696.13 L351.10,695.93 L351.60,696.02 L352.10,696.20 L352.60,696.18 L353.10,696.19 L353.60,696.16 L354.10,696.02 L354.60,695.76 L355.10,695.83 L355.60,696.29 L356.10,696.39 L356.60,696.08 L357.10,695.69 L357.60,695.35 L358.10,695.48 L358.60,696.08 L359.10,696.59 L359.60,696.48 L360.10,696.42 L360.60,696.47 L361.10,696.24 L361.60,696.07 L362.10,696.14 L362.60,696.23 L363.10,696.04 L363.60,695.65 L364.10,695.33 L364.60,695.27 L365.10,695.36 L365.60,695.32 L366.10,695.37 L366.60,695.72 L367.10,695.93 L367.60,696.05 L368.10,696.30 L368.60,696.37 L369.10,696.19 L369.60,695.96 L370.10,695.95 L370.60,696.26 L371.10,696.44 L371.60,696.08 L372.10,695.78 L372.60,695.75 L373.10,695.88 L373.60,695.98 L374.10,695.82 L374.60,695.47 L375.10,695.12 L375.60,695.06 L376.10,695.28 L376.60,695.44 L377.10,695.27 L377.60,694.95 L378.10,694.95 L378.60,694.80 L379.10,694.44 L379.60,694.43 L380.10,694.16 L380.60,692.81 L381.10,690.75 L381.60,687.81 L382.10,683.01 L382.60,675.75 L383.10,665.52 L383.60,652.45 L384.10,637.51 L384.60,623.06 L385.10,614.69 L385.20,614.40 L385.60,618.39 L386.10,631.06 L386.60,645.97 L387.10,659.63 L387.60,670.68 L388.10,678.51 L388.60,682.55 L389.10,683.18 L389.60,680.86 L390.10,675.48 L390.60,667.58 L391.10,657.82 L391.60,647.34 L392.10,639.20 L392.40,637.60 L392.60,638.40 L393.10,645.68 L393.60,656.27 L394.10,666.88 L394.60,676.06 L395.10,683.11 L395.60,688.00 L396.10,691.21 L396.60,693.12 L397.10,694.08 L397.60,694.41 L398.10,694.53 L398.60,694.56 L399.10,694.59 L399.60,694.76 L400.10,695.09 L400.60,695.07 L401.10,694.98 L401.60,695.27 L402.10,695.60 L402.60,695.55 L403.10,695.41 L403.60,695.61 L404.10,695.53 L404.60,695.42 L405.10,695.77 L405.60,696.22 L406.10,695.87 L406.60,695.25 L407.10,695.07 L407.60,695.33 L408.10,695.82 L408.60,695.82 L409.10,695.25 L409.60,694.95 L410.10,695.28 L410.60,695.69 L411.10,695.87 L411.60,695.79 L412.10,695.73 L412.60,695.75 L413.10,695.88 L413.60,696.21 L414.10,696.30 L414.60,696.12 L415.10,696.04 L415.60,696.10 L416.10,696.10 L416.60,696.25 L417.10,696.33 L417.60,695.95 L418.10,695.57 L418.60,695.52 L419.10,695.39 L419.60,695.05 L420.10,695.02 L420.60,695.34 L421.10,695.62 L421.60,695.78 L422.10,696.01 L422.60,695.89 L423.10,695.49 L423.60,695.43 L424.10,695.74 L424.60,696.02 L425.10,696.18 L425.60,696.33 L426.10,696.41 L426.60,696.38 L427.10,696.31 L427.60,695.92 L428.10,695.50 L428.60,695.54 L429.10,695.68 L429.60,695.44 L430.10,695.10 L430.60,695.31 L431.10,695.65 L431.60,695.68 L432.10,695.59 L432.60,695.86 L433.10,696.20 L433.60,695.95 L434.10,695.71 L434.60,695.84 L435.10,696.12 L435.60,696.44 L436.10,696.62 L436.60,696.67 L437.10,696.63 L437.60,696.25 L438.10,696.11 L438.60,696.33 L439.10,696.26 L439.60,696.02 L440.10,695.93 L440.60,696.17 L441.10,696.46 L441.60,696.20" fill="none" stroke="#e82a8c" stroke-width="1.0" stroke-linejoin="round"/>
<text x="587.02" y="372.9" font-size="15.6" fill="#1a1a1a" stroke="#1a1a1a" stroke-width="0.15" textLength="30.09" lengthAdjust="spacingAndGlyphs">STD</text>
<rect x="533.0" y="391.0" width="150.5" height="135.8" fill="none" stroke="#dfe1e1" stroke-width="1.1"/>
<line x1="532.5" y1="531.8" x2="684.0" y2="531.8" stroke="#4d4d4d" stroke-width="1.3"/>
<line x1="546.5" y1="531.8" x2="546.5" y2="537.0" stroke="#4d4d4d" stroke-width="1.2"/>
<line x1="561.5" y1="531.8" x2="561.5" y2="534.5" stroke="#4d4d4d" stroke-width="1.2"/>
<line x1="576.5" y1="531.8" x2="576.5" y2="537.0" stroke="#4d4d4d" stroke-width="1.2"/>
<line x1="591.5" y1="531.8" x2="591.5" y2="534.5" stroke="#4d4d4d" stroke-width="1.2"/>
<line x1="606.5" y1="531.8" x2="606.5" y2="537.0" stroke="#4d4d4d" stroke-width="1.2"/>
<line x1="621.5" y1="531.8" x2="621.5" y2="534.5" stroke="#4d4d4d" stroke-width="1.2"/>
<line x1="636.5" y1="531.8" x2="636.5" y2="537.0" stroke="#4d4d4d" stroke-width="1.2"/>
<line x1="651.5" y1="531.8" x2="651.5" y2="534.5" stroke="#4d4d4d" stroke-width="1.2"/>
<line x1="666.5" y1="531.8" x2="666.5" y2="537.0" stroke="#4d4d4d" stroke-width="1.2"/>
<line x1="681.5" y1="531.8" x2="681.5" y2="534.5" stroke="#4d4d4d" stroke-width="1.2"/>
<clipPath id="ax9"><rect x="502.5" y="531.8" width="181.5" height="30"/></clipPath>
<g clip-path="url(#ax9)">
<text x="538.05" y="550.0" font-size="12.1" fill="#1a1a1a" stroke="#1a1a1a" stroke-width="0.2" textLength="16.82" lengthAdjust="spacingAndGlyphs">7.8</text>
<text x="568.09" y="550.0" font-size="12.1" fill="#1a1a1a" stroke="#1a1a1a" stroke-width="0.2" textLength="16.82" lengthAdjust="spacingAndGlyphs">7.7</text>
<text x="598.05" y="550.0" font-size="12.1" fill="#1a1a1a" stroke="#1a1a1a" stroke-width="0.2" textLength="16.82" lengthAdjust="spacingAndGlyphs">7.6</text>
<text x="628.03" y="550.0" font-size="12.1" fill="#1a1a1a" stroke="#1a1a1a" stroke-width="0.2" textLength="16.82" lengthAdjust="spacingAndGlyphs">7.5</text>
<text x="657.95" y="550.0" font-size="12.1" fill="#1a1a1a" stroke="#1a1a1a" stroke-width="0.2" textLength="16.82" lengthAdjust="spacingAndGlyphs">7.4</text>
</g>
<text x="585.11" y="564.5" font-size="11.8" fill="#1a1a1a" stroke="#1a1a1a" stroke-width="0.2" textLength="46.24" lengthAdjust="spacingAndGlyphs">f1 (ppm)</text>
<text x="474.21" y="412.6" font-size="12.2" fill="#1a1a1a" stroke="#1a1a1a" stroke-width="0.15" textLength="72.86" lengthAdjust="spacingAndGlyphs">Ligand bound</text>
<path d="M533.10,517.30 L533.75,516.49 L534.40,516.55 L535.05,517.58 L535.70,516.23 L536.35,519.83 L537.00,517.69 L537.65,521.30 L538.30,521.70 L538.95,520.76 L539.60,517.04 L540.25,517.91 L540.90,519.51 L541.55,517.65 L542.20,521.42 L542.85,516.50 L543.50,519.00 L544.15,517.26 L544.80,518.94 L545.45,514.58 L546.10,517.73 L546.75,516.29 L547.40,514.92 L548.05,516.92 L548.70,517.95 L549.35,514.98 L550.00,515.97 L550.65,514.45 L551.30,517.28 L551.95,517.80 L552.60,519.69 L553.25,519.49 L553.90,518.22 L554.55,517.37 L555.20,519.65 L555.85,518.35 L556.50,520.89 L557.15,520.01 L557.80,517.32 L558.45,517.44 L559.10,519.56 L559.75,517.53 L560.40,519.28 L561.05,519.64 L561.70,519.48 L562.35,519.13 L563.00,517.04 L563.65,515.72 L564.30,514.70 L564.95,517.25 L565.60,520.35 L566.25,514.87 L566.90,519.98 L567.55,515.51 L568.20,516.86 L568.85,518.40 L569.50,521.66 L570.15,518.47 L570.80,521.23 L571.45,521.52 L572.10,521.41 L572.75,519.66 L573.40,520.38 L574.05,520.79 L574.70,521.48 L575.35,520.37 L576.00,519.59 L576.65,515.53 L577.30,517.50 L577.95,518.73 L578.60,520.33 L579.25,521.80 L579.90,517.57 L580.55,516.88 L581.20,515.40 L581.85,519.08 L582.50,514.98 L583.15,515.43 L583.80,516.56 L584.45,516.34 L585.10,520.79 L585.75,519.64 L586.40,518.52 L587.05,520.66 L587.70,518.21 L588.35,519.66 L589.00,517.56 L589.65,512.33 L590.30,505.52 L590.95,494.51 L591.60,486.69 L591.60,486.69 L592.25,493.75 L592.90,503.62 L593.55,508.86 L594.20,507.50 L594.85,499.85 L595.50,485.00 L596.15,473.25 L596.20,473.19 L596.80,483.11 L597.45,499.78 L598.10,510.05 L598.75,514.09 L599.40,517.19 L600.05,516.64 L600.70,518.60 L601.35,518.45 L602.00,518.53 L602.65,518.69 L603.30,517.36 L603.95,516.07 L604.60,518.29 L605.25,521.21 L605.90,516.78 L606.55,518.90 L607.20,519.99 L607.85,519.58 L608.50,518.94 L609.15,518.25 L609.80,522.06 L610.45,519.23 L611.10,519.64 L611.75,519.17 L612.40,516.43 L613.05,518.20 L613.70,519.70 L614.35,518.23 L615.00,517.48 L615.65,516.57 L616.30,518.24 L616.95,517.75 L617.60,519.40 L618.25,515.35 L618.90,516.44 L619.55,513.05 L620.20,507.81 L620.85,494.92 L621.50,477.19 L622.00,469.37 L622.15,470.00 L622.80,484.04 L623.45,497.90 L624.10,505.02 L624.75,501.96 L625.40,492.72 L626.05,484.81 L626.10,484.80 L626.70,492.26 L627.35,503.81 L628.00,512.15 L628.65,515.06 L629.30,516.54 L629.95,517.30 L630.60,516.59 L631.25,517.16 L631.90,518.93 L632.55,518.80 L633.20,518.12 L633.85,517.93 L634.50,518.68 L635.15,515.97 L635.80,516.33 L636.45,519.44 L637.10,521.61 L637.75,519.85 L638.40,519.35 L639.05,521.88 L639.70,519.43 L640.35,521.24 L641.00,522.88 L641.65,520.58 L642.30,520.84 L642.95,519.98 L643.60,516.88 L644.25,520.48 L644.90,517.76 L645.55,519.10 L646.20,520.16 L646.85,518.33 L647.50,521.29 L648.15,520.59 L648.80,519.15 L649.45,520.23 L650.10,517.35 L650.75,516.94 L651.40,518.17 L652.05,515.55 L652.70,522.84 L653.35,519.66 L654.00,519.40 L654.65,516.43 L655.30,517.51 L655.95,517.55 L656.60,514.44 L657.25,517.71 L657.90,516.87 L658.55,518.02 L659.20,518.52 L659.85,520.27 L660.50,522.32 L661.15,522.04 L661.80,521.52 L662.45,518.83 L663.10,519.11 L663.75,517.25 L664.40,518.50 L665.05,517.40 L665.70,517.73 L666.35,516.68 L667.00,515.26 L667.65,519.73 L668.30,518.15 L668.95,518.39 L669.60,518.18 L670.25,515.51 L670.90,518.79 L671.55,518.91 L672.20,515.83 L672.85,519.20 L673.50,517.67 L674.15,523.18 L674.80,520.99 L675.45,520.24 L676.10,517.98 L676.75,517.78 L677.40,521.42 L678.05,518.89 L678.70,518.52 L679.35,519.86 L680.00,520.46 L680.65,519.60 L681.30,517.79 L681.95,518.74 L682.60,518.72 L683.25,518.78" fill="none" stroke="#37379a" stroke-width="1.0" stroke-linejoin="round"/>
<rect x="530.1" y="573.1" width="150.4" height="134.2" fill="none" stroke="#dfe1e1" stroke-width="1.1"/>
<line x1="529.6" y1="712.0" x2="681.0" y2="712.0" stroke="#4d4d4d" stroke-width="1.3"/>
<line x1="540.5" y1="712.0" x2="540.5" y2="717.2" stroke="#4d4d4d" stroke-width="1.2"/>
<line x1="555.5" y1="712.0" x2="555.5" y2="714.7" stroke="#4d4d4d" stroke-width="1.2"/>
<line x1="570.5" y1="712.0" x2="570.5" y2="717.2" stroke="#4d4d4d" stroke-width="1.2"/>
<line x1="585.5" y1="712.0" x2="585.5" y2="714.7" stroke="#4d4d4d" stroke-width="1.2"/>
<line x1="600.5" y1="712.0" x2="600.5" y2="717.2" stroke="#4d4d4d" stroke-width="1.2"/>
<line x1="615.5" y1="712.0" x2="615.5" y2="714.7" stroke="#4d4d4d" stroke-width="1.2"/>
<line x1="630.4" y1="712.0" x2="630.4" y2="717.2" stroke="#4d4d4d" stroke-width="1.2"/>
<line x1="645.4" y1="712.0" x2="645.4" y2="714.7" stroke="#4d4d4d" stroke-width="1.2"/>
<line x1="660.4" y1="712.0" x2="660.4" y2="717.2" stroke="#4d4d4d" stroke-width="1.2"/>
<line x1="675.4" y1="712.0" x2="675.4" y2="714.7" stroke="#4d4d4d" stroke-width="1.2"/>
<clipPath id="ax10"><rect x="499.6" y="712.0" width="181.39999999999998" height="30"/></clipPath>
<g clip-path="url(#ax10)">
<text x="532.05" y="731.0" font-size="12.1" fill="#1a1a1a" stroke="#1a1a1a" stroke-width="0.2" textLength="16.82" lengthAdjust="spacingAndGlyphs">7.8</text>
<text x="562.07" y="731.0" font-size="12.1" fill="#1a1a1a" stroke="#1a1a1a" stroke-width="0.2" textLength="16.82" lengthAdjust="spacingAndGlyphs">7.7</text>
<text x="592.01" y="731.0" font-size="12.1" fill="#1a1a1a" stroke="#1a1a1a" stroke-width="0.2" textLength="16.82" lengthAdjust="spacingAndGlyphs">7.6</text>
<text x="621.97" y="731.0" font-size="12.1" fill="#1a1a1a" stroke="#1a1a1a" stroke-width="0.2" textLength="16.82" lengthAdjust="spacingAndGlyphs">7.5</text>
<text x="651.87" y="731.0" font-size="12.1" fill="#1a1a1a" stroke="#1a1a1a" stroke-width="0.2" textLength="16.82" lengthAdjust="spacingAndGlyphs">7.4</text>
</g>
<text x="582.92" y="745.0" font-size="11.8" fill="#1a1a1a" stroke="#1a1a1a" stroke-width="0.2" textLength="45.02" lengthAdjust="spacingAndGlyphs">f1 (ppm)</text>
<text x="500.59" y="595.8" font-size="12.2" fill="#1a1a1a" stroke="#1a1a1a" stroke-width="0.15" textLength="58.76" lengthAdjust="spacingAndGlyphs">Ligand QC</text>
<path d="M530.20,695.52 L530.85,695.38 L531.50,694.20 L532.15,696.97 L532.80,694.71 L533.45,694.98 L534.10,693.02 L534.75,693.13 L535.40,693.58 L536.05,694.64 L536.70,696.18 L537.35,696.46 L538.00,697.77 L538.65,696.06 L539.30,698.12 L539.95,697.15 L540.60,696.21 L541.25,696.18 L541.90,693.71 L542.55,694.05 L543.20,693.02 L543.85,697.38 L544.50,695.92 L545.15,696.33 L545.80,696.65 L546.45,694.66 L547.10,694.68 L547.75,693.92 L548.40,694.77 L549.05,693.74 L549.70,694.82 L550.35,693.60 L551.00,694.18 L551.65,695.22 L552.30,695.22 L552.95,694.21 L553.60,692.22 L554.25,695.66 L554.90,692.10 L555.55,693.36 L556.20,693.06 L556.85,693.33 L557.50,695.32 L558.15,696.44 L558.80,695.28 L559.45,695.07 L560.10,695.97 L560.75,696.31 L561.40,697.19 L562.05,694.57 L562.70,694.87 L563.35,694.05 L564.00,696.30 L564.65,694.90 L565.30,697.78 L565.95,698.48 L566.60,696.84 L567.25,697.09 L567.90,692.60 L568.55,695.80 L569.20,695.69 L569.85,694.28 L570.50,690.15 L571.15,696.15 L571.80,696.84 L572.45,700.03 L573.10,696.49 L573.75,695.46 L574.40,693.58 L575.05,694.96 L575.70,696.50 L576.35,696.02 L577.00,693.72 L577.65,692.41 L578.30,695.13 L578.95,697.54 L579.60,692.24 L580.25,694.51 L580.90,694.96 L581.55,693.50 L582.20,693.51 L582.85,694.99 L583.50,695.21 L584.15,695.60 L584.80,694.20 L585.45,693.70 L586.10,695.20 L586.75,691.51 L587.40,695.95 L588.05,695.00 L588.70,694.16 L589.35,692.38 L590.00,693.35 L590.65,695.58 L591.30,693.79 L591.95,695.14 L592.60,692.94 L593.25,694.53 L593.90,698.00 L594.55,696.60 L595.20,698.74 L595.85,693.27 L596.50,693.35 L597.15,693.67 L597.80,693.33 L598.45,694.71 L599.10,692.53 L599.75,692.45 L600.40,695.52 L601.05,691.06 L601.70,692.01 L602.35,696.02 L603.00,697.25 L603.65,697.36 L604.30,696.93 L604.95,693.31 L605.60,695.60 L606.25,695.71 L606.90,696.42 L607.55,694.95 L608.20,696.31 L608.85,697.23 L609.50,696.79 L610.15,694.78 L610.80,694.41 L611.45,695.11 L612.10,694.52 L612.75,695.40 L613.40,693.08 L614.05,695.52 L614.70,695.34 L615.35,696.42 L616.00,696.87 L616.65,696.02 L617.30,696.25 L617.95,697.81 L618.60,698.85 L619.25,694.90 L619.90,696.21 L620.55,697.10 L621.20,696.32 L621.85,694.43 L622.50,690.94 L623.15,695.57 L623.80,692.52 L624.45,693.95 L625.10,692.60 L625.75,692.98 L626.40,694.20 L627.05,692.74 L627.70,696.50 L628.35,694.77 L629.00,697.00 L629.65,696.29 L630.30,697.27 L630.95,696.25 L631.60,697.10 L632.25,695.05 L632.90,698.67 L633.55,697.01 L634.20,697.35 L634.85,692.06 L635.50,692.89 L636.15,694.56 L636.80,696.48 L637.45,694.46 L638.10,693.90 L638.75,693.62 L639.40,694.17 L640.05,694.02 L640.70,695.56 L641.35,693.92 L642.00,690.79 L642.65,692.74 L643.30,694.23 L643.95,691.65 L644.60,691.18 L645.25,694.40 L645.90,693.68 L646.55,696.54 L647.20,694.55 L647.85,696.23 L648.50,696.23 L649.15,697.52 L649.80,696.09 L650.45,696.81 L651.10,697.01 L651.75,692.03 L652.40,696.34 L653.05,693.56 L653.70,693.69 L654.35,695.10 L655.00,694.16 L655.65,693.23 L656.30,691.49 L656.95,692.95 L657.60,693.25 L658.25,691.26 L658.90,694.88 L659.55,694.31 L660.20,692.05 L660.85,690.97 L661.50,689.88 L662.15,692.74 L662.80,690.83 L663.45,694.42 L664.10,690.06 L664.75,693.88 L665.40,692.70 L666.05,694.16 L666.70,693.11 L667.35,694.12 L668.00,693.37 L668.65,696.01 L669.30,694.26 L669.95,697.17 L670.60,693.91 L671.25,697.13 L671.90,694.25 L672.55,694.25 L673.20,693.76 L673.85,692.71 L674.50,692.17 L675.15,694.28 L675.80,692.17 L676.45,695.02 L677.10,696.09 L677.75,693.90 L678.40,696.36 L679.05,694.99 L679.70,696.67 L680.35,697.37" fill="none" stroke="#37379a" stroke-width="1.0" stroke-linejoin="round"/>
</svg>
</body></html>
